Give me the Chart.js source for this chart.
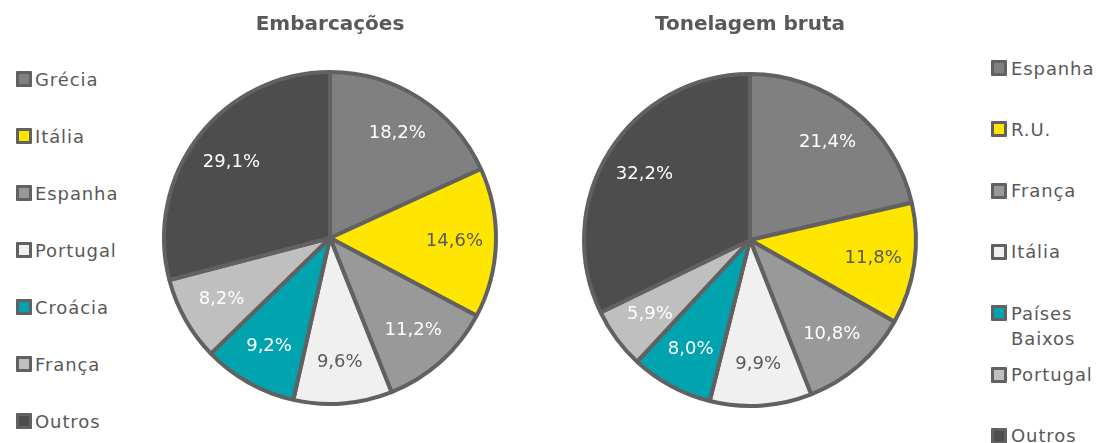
<!DOCTYPE html>
<html>
<head>
<meta charset="utf-8">
<script src="https://cdn.jsdelivr.net/npm/chart.js@4/dist/chart.umd.min.js"></script>
<style>
  html, body { margin:0; padding:0; background:#fff; width:1097px; height:443px; overflow:hidden; }
  #wrap { position:relative; width:1097px; height:443px; }
  .cv { position:absolute; top:0; width:360px; height:443px; }
  .leg { position:absolute; font-family:"DejaVu Sans", sans-serif; font-size:18px; color:#595959; letter-spacing:0.9px; line-height:25px; }
  .sq { position:absolute; width:10px; height:10px; border:3px solid #616161; border-radius:1px; }
  .lt { position:absolute; white-space:normal; width:75px; }
</style>
</head>
<body>
<div id="wrap">
  <div class="cv" style="left:150px;"><canvas id="c1" width="360" height="443"></canvas></div>
  <div class="cv" style="left:570px;"><canvas id="c2" width="360" height="443"></canvas></div>
  <div id="legends"></div>
</div>
<script>
// ---- Data ----
const title1 = "Embarcações";
const categories1 = ["Grécia", "Itália", "Espanha", "Portugal", "Croácia", "França", "Outros"];
const values1 = [18.2, 14.6, 11.2, 9.6, 9.2, 8.2, 29.1];

const title2 = "Tonelagem bruta";
const categories2 = ["Espanha", "R.U.", "França", "Itália", "Países Baixos", "Portugal", "Outros"];
const values2 = [21.4, 11.8, 10.8, 9.9, 8.0, 5.9, 32.2];

const sliceColors = ["#808080", "#FFE600", "#999999", "#F0F0F0", "#00A3AE", "#BFBFBF", "#4D4D4D"];
const labelColors = ["#ffffff", "#595959", "#ffffff", "#595959", "#ffffff", "#ffffff", "#ffffff"];

// ---- Data label plugin ----
const pieLabels = {
  id: 'pieLabels',
  afterDatasetsDraw(chart) {
    const ctx = chart.ctx;
    const meta = chart.getDatasetMeta(0);
    const ds = chart.data.datasets[0];
    ctx.save();
    ctx.font = '18px "DejaVu Sans", sans-serif';
    ctx.textAlign = 'center';
    ctx.textBaseline = 'middle';
    meta.data.forEach((arc, i) => {
      const p = arc.getProps(['x', 'y', 'startAngle', 'endAngle', 'outerRadius'], true);
      const mid = (p.startAngle + p.endAngle) / 2;
      const d = p.outerRadius * 0.75;
      ctx.fillStyle = labelColors[i];
      const txt = ds.data[i].toFixed(1).replace('.', ',') + '%';
      ctx.fillText(txt, p.x + Math.cos(mid) * d, p.y + Math.sin(mid) * d);
    });
    ctx.restore();
  }
};

function makePie(id, title, cats, vals, padBottom) {
  return new Chart(document.getElementById(id), {
    type: 'pie',
    data: {
      labels: cats,
      datasets: [{
        data: vals,
        backgroundColor: sliceColors,
        borderColor: '#616161',
        borderWidth: 4,
        radius: 166
      }]
    },
    options: {
      responsive: false,
      animation: false,
      layout: { padding: { top: 0, bottom: padBottom, left: 0, right: 0 } },
      plugins: {
        legend: { display: false },
        tooltip: { enabled: false },
        title: {
          display: true,
          text: title,
          color: '#595959',
          font: { family: '"DejaVu Sans", sans-serif', size: 20, weight: 'bold' },
          padding: { top: 13, bottom: 20 }
        }
      }
    },
    plugins: [pieLabels]
  });
}

makePie('c1', title1, categories1, values1, 24);
makePie('c2', title2, categories2, values2, 20);

// ---- HTML legends ----
function makeLegend(cats, sqX, txtX, firstY, step) {
  const host = document.getElementById('legends');
  cats.forEach((c, i) => {
    const cy = firstY + i * step;
    const sq = document.createElement('div');
    sq.className = 'sq';
    sq.style.left = sqX + 'px';
    sq.style.top = (cy - 8) + 'px';
    sq.style.background = sliceColors[i];
    const t = document.createElement('div');
    t.className = 'leg lt';
    t.style.left = txtX + 'px';
    t.style.top = (cy - 12.5) + 'px';
    t.textContent = c;
    host.appendChild(sq);
    host.appendChild(t);
  });
}
makeLegend(categories1, 16, 35, 79, 57);
makeLegend(categories2, 991, 1011, 68, 61.3);
</script>
</body>
</html>
